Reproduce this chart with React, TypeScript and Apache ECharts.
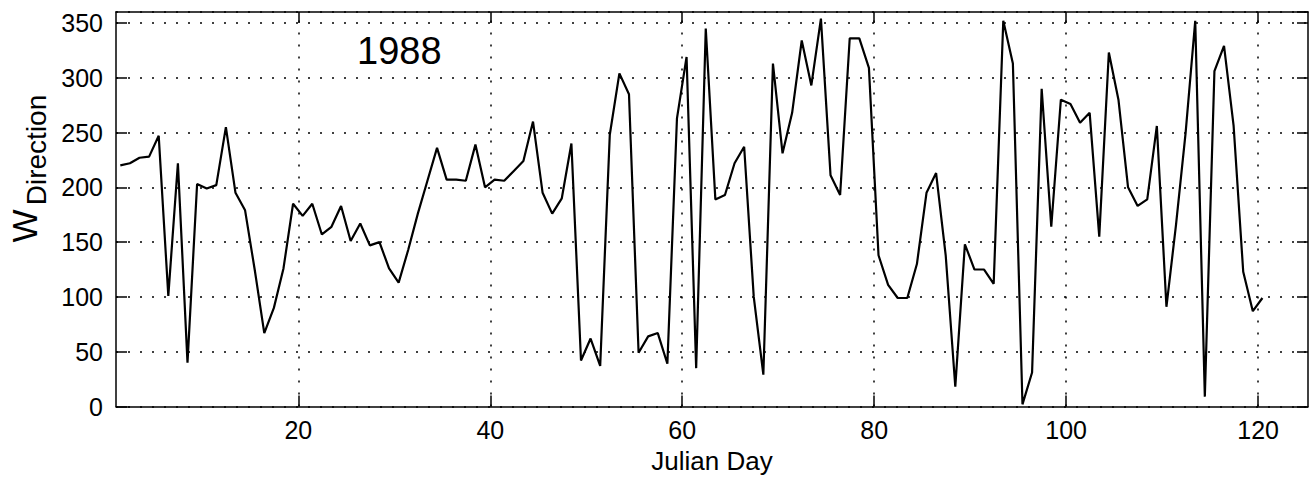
import React, { useEffect, useRef } from "react";
import * as echarts from "echarts";

// Daily wind direction (degrees), Julian days 1..120, 1988
const windDirection: number[] = [
  220, 222, 227, 228, 247, 101, 222, 40, 203, 199,
  202, 255, 195, 179, 125, 67, 90, 126, 185, 174,
  185, 157, 164, 183, 151, 167, 147, 150, 126, 113,
  143, 176, 206, 236, 207, 207, 206, 239, 200, 207,
  206, 215, 224, 260, 195, 176, 190, 240, 42, 62,
  37, 248, 304, 285, 49, 64, 67, 39, 263, 319,
  35, 345, 189, 193, 222, 237, 100, 29, 313, 231,
  268, 334, 293, 354, 211, 193, 336, 336, 309, 138,
  111, 99, 99, 130, 195, 213, 138, 18, 148, 125,
  125, 112, 352, 313, 2, 31, 290, 164, 280, 276,
  259, 268, 155, 323, 280, 200, 183, 189, 256, 91,
  166, 250, 352, 9, 306, 329, 256, 123, 87, 99,
];
const firstDay = 1;
const sampleOffset = 0.45; // daily samples plotted slightly after the day mark
const xTickValues: number[] = [20, 40, 60, 80, 100, 120];
const yTickInterval = 50;
const xMin = 1;
const xMax = 125.2;
const yMin = 0;
const yMax = 360;
const yearLabel = "1988";
const xTitle = "Julian Day";
const yTitleMain = "W";
const yTitleSub = "Direction";

const FONT = "'Liberation Sans', Arial, Helvetica, sans-serif";

export default function App() {
  const ref = useRef<HTMLDivElement>(null);
  useEffect(() => {
    if (!ref.current) return;
    const chart = echarts.init(ref.current, undefined, { renderer: "svg" });
    const data = windDirection.map((v, i) => [firstDay + i + sampleOffset, v]);
    const dotted = { type: [2, 10] as any, color: "#000", width: 1.5 };
    const axisLineStyle = { color: "#000", width: 1.5 };
    const option: any = {
      animation: false,
      backgroundColor: "#ffffff",
      textStyle: { fontFamily: FONT },
      grid: { left: 116, right: 6, top: 12, bottom: 74.5, containLabel: false },
      xAxis: [
        {
          type: "value",
          min: xMin,
          max: xMax,
          position: "bottom",
          axisLine: { show: true, onZero: false, lineStyle: axisLineStyle },
          axisTick: { show: true, inside: true, length: 11, customValues: xTickValues, lineStyle: axisLineStyle },
          axisLabel: { show: true, customValues: xTickValues, color: "#000", fontSize: 25, margin: 11, fontFamily: FONT },
          splitLine: { show: false },
          name: xTitle,
          nameLocation: "middle",
          nameGap: 41,
          nameTextStyle: { color: "#000", fontSize: 26, fontFamily: FONT },
        },
        {
          type: "value",
          min: xMin,
          max: xMax,
          position: "top",
          axisLine: { show: true, onZero: false, lineStyle: axisLineStyle },
          axisTick: { show: true, inside: true, length: 11, customValues: xTickValues, lineStyle: axisLineStyle },
          axisLabel: { show: false },
          splitLine: { show: false },
        },
      ],
      yAxis: [
        {
          type: "value",
          min: yMin,
          max: yMax,
          interval: yTickInterval,
          position: "left",
          axisLine: { show: true, onZero: false, lineStyle: axisLineStyle },
          axisTick: { show: true, inside: true, length: 11, lineStyle: axisLineStyle },
          axisLabel: { show: true, color: "#000", fontSize: 25, margin: 13, showMaxLabel: false, fontFamily: FONT },
          splitLine: { show: true, lineStyle: dotted },
        },
        {
          type: "value",
          min: yMin,
          max: yMax,
          interval: yTickInterval,
          position: "right",
          axisLine: { show: true, onZero: false, lineStyle: axisLineStyle },
          axisTick: { show: true, inside: true, length: 11, lineStyle: axisLineStyle },
          axisLabel: { show: false },
          splitLine: { show: false },
        },
      ],
      series: [
        {
          type: "line",
          xAxisIndex: 0,
          yAxisIndex: 0,
          data,
          symbol: "none",
          showSymbol: false,
          lineStyle: { color: "#000", width: 2.2 },
          z: 5,
          markLine: {
            silent: true,
            symbol: ["none", "none"],
            label: { show: false },
            lineStyle: dotted,
            data: xTickValues.map((v) => ({ xAxis: v })),
            z: 1,
          },
        },
      ],
      graphic: [
        {
          type: "text",
          x: 357,
          y: 32,
          style: { text: yearLabel, fontSize: 38, fontFamily: FONT, fill: "#000", align: "left", verticalAlign: "top" },
        },
        {
          type: "text",
          x: 24,
          y: 226,
          rotation: Math.PI / 2,
          style: { text: yTitleMain, fontSize: 35, fontFamily: FONT, fill: "#000", align: "center", verticalAlign: "middle" },
        },
        {
          type: "text",
          x: 36,
          y: 150,
          rotation: Math.PI / 2,
          style: { text: yTitleSub, fontSize: 28, fontFamily: FONT, fill: "#000", align: "center", verticalAlign: "middle" },
        },
      ],
    };
    chart.setOption(option);
    return () => chart.dispose();
  }, []);
  return (
    <div
      ref={ref}
      style={{ position: "absolute", left: 0, top: 0, width: 1314, height: 481 }}
    />
  );
}
